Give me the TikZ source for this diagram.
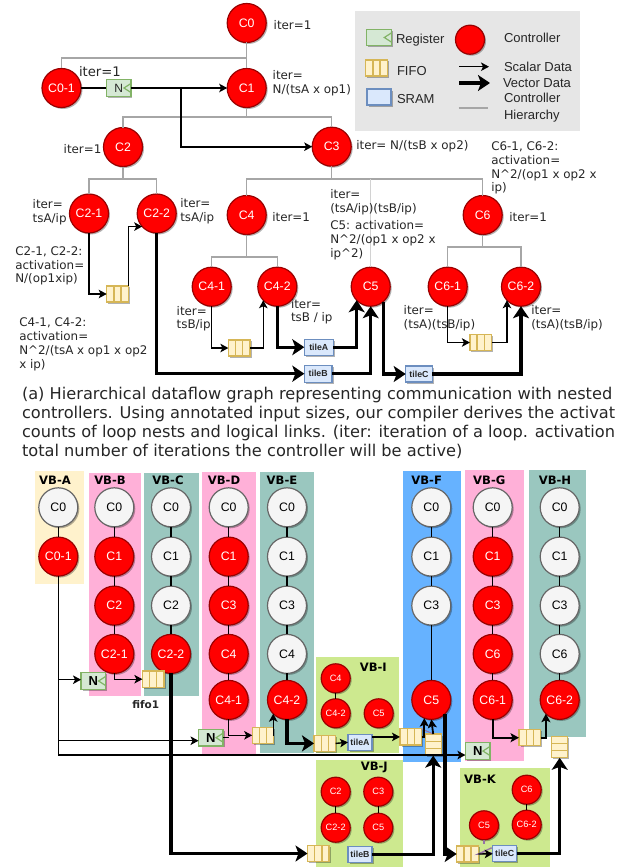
\documentclass[tikz,border=0pt]{standalone}
\usepackage{fontspec}
\setsansfont{Liberation Sans}
\newfontfamily\notefont{DejaVu Sans}
\usepackage{tikz}
\usetikzlibrary{positioning}
\usetikzlibrary{shapes.geometric, arrows.meta, calc, shadows}
\definecolor{ctrlred}{HTML}{FF0000}
\definecolor{ctrledge}{HTML}{9A0000}
\definecolor{offfill}{HTML}{F5F5F5}
\definecolor{offedge}{HTML}{666666}
\definecolor{regfill}{HTML}{D5E8D4}
\definecolor{regedge}{HTML}{82B366}
\definecolor{fifofill}{HTML}{FFF2CC}
\definecolor{fifoedge}{HTML}{D6B656}
\definecolor{sramfill}{HTML}{DAE8FC}
\definecolor{sramedge}{HTML}{6C8EBF}
\definecolor{vbcream}{HTML}{FFF2CC}
\definecolor{vbpink}{HTML}{FFB0D8}
\definecolor{vbteal}{HTML}{9AC7BF}
\definecolor{vbgreen}{HTML}{CDE98F}
\definecolor{vbblue}{HTML}{66B2FF}
\definecolor{hiergray}{HTML}{A6A6A6}
\definecolor{legendgray}{HTML}{E6E6E6}
\definecolor{notetext}{HTML}{262626}
\definecolor{stubpurple}{HTML}{9673A6}

\begin{document}
\begin{tikzpicture}[
            x=1pt, y=-1pt,
            % Estilos de los nodos
            softshadow/.style={drop shadow={shadow xshift=1.5pt, shadow yshift=-1.5pt, fill=black, opacity=0.3}},
            ctrl/.style={circle, draw=ctrledge, fill=ctrlred, line width=1.2pt, minimum size=39pt, inner sep=0pt, outer sep=0pt, text=white, font=\sffamily\fontsize{12.3}{14}\selectfont, softshadow},
            ctrloff/.style={ctrl, draw=offedge, fill=offfill, text=black},
            minictrl/.style={ctrl, minimum size=29pt, font=\sffamily\fontsize{9.2}{11}\selectfont},
            reg/.style={rectangle, draw=regedge, fill=regfill, line width=1.3pt, minimum width=24.5pt, minimum height=16.5pt, inner sep=0pt, outer sep=0pt, text=notetext, font=\sffamily\fontsize{12}{14}\selectfont, softshadow,
                path picture={\draw[regedge, line width=1.2pt] (path picture bounding box.east) +(0,-4.5) -- +(-7,0) -- +(0,4.5);}},
            regbold/.style={reg, text=black, font=\sffamily\bfseries\fontsize{13}{14}\selectfont},
            fifo/.style={rectangle, draw=fifoedge, fill=fifofill, line width=1.3pt, minimum width=21.6pt, minimum height=16.2pt, inner sep=0pt, outer sep=0pt, softshadow,
                path picture={\foreach \cut in {0.333, 0.667} {\draw[fifoedge, line width=1.3pt] ($(path picture bounding box.north west)!\cut!(path picture bounding box.north east)$) -- ($(path picture bounding box.south west)!\cut!(path picture bounding box.south east)$);}}},
            fifostack/.style={rectangle, draw=fifoedge, fill=fifofill, line width=1.3pt, minimum width=16pt, minimum height=21.6pt, inner sep=0pt, outer sep=0pt, softshadow,
                path picture={\foreach \cut in {0.333, 0.667} {\draw[fifoedge, line width=1.3pt] ($(path picture bounding box.north west)!\cut!(path picture bounding box.south west)$) -- ($(path picture bounding box.north east)!\cut!(path picture bounding box.south east)$);}}},
            sram/.style={rectangle, draw=sramedge, fill=sramfill, line width=1.3pt, minimum width=24pt, minimum height=16pt, inner sep=0pt, outer sep=0pt, text=notetext, font=\sffamily\bfseries\fontsize{8.8}{10}\selectfont, softshadow},
            hier/.style={draw=hiergray, line width=1.5pt},
            hierlight/.style={draw=hiergray!50, line width=1.2pt},
            chain/.style={draw=black, line width=1.1pt},
            scalar/.style={-{Stealth[length=8pt, width=8.5pt, inset=2pt]}, draw=black, line width=1.4pt},
            midarrow/.style={-{Stealth[length=8.5pt, width=9pt, inset=2pt]}, draw=black, line width=1.8pt},
            vector/.style={-{Stealth[length=12pt, width=16pt, inset=3pt]}, draw=black, line width=3.2pt},
            note/.style={font=\notefont\fontsize{11.9}{13.8}\selectfont, text=notetext, align=left, anchor=west, inner sep=0pt, outer sep=0pt},
            keytext/.style={font=\sffamily\fontsize{13}{16.4}\selectfont, text=notetext, align=left, anchor=west, inner sep=0pt, outer sep=0pt},
            vbtitle/.style={font=\notefont\bfseries\fontsize{11.6}{14}\selectfont, text=black, inner sep=0pt, outer sep=0pt}
        ]

            \useasboundingbox (0,0) rectangle (616,867);

            % Fondos de los bloques virtuales
            \fill[vbcream] (35,471) rectangle (83.7,583.7);
            \fill[vbpink] (89,473) rectangle (141,695.7);
            \fill[vbteal] (144,473) rectangle (199,695.7);
            \fill[vbpink] (202,472) rectangle (256,754);
            \fill[vbteal] (260,472) rectangle (314,753);
            \fill[vbgreen] (316,657) rectangle (399,753);
            \fill[vbblue] (403,471) rectangle (461,761.7);
            \fill[vbpink] (465,470) rectangle (524,760.7);
            \fill[vbteal] (529,470) rectangle (586,737);
            \fill[vbgreen] (316,760) rectangle (403,867);
            \fill[vbgreen] (460,768) rectangle (550,867);
            \fill[legendgray] (355,11) rectangle (580,130.7);

            % Leyenda
            \node[reg, minimum width=24.6pt] (keyreg) at (379,37.5) {};
            \node[keytext] (keyregtext) at (396,40) {Register};
            \node[fifo] (keyfifo) at (376.5,68) {};
            \node[keytext] (keyfifotext) at (397,71) {FIFO};
            \node[sram] (keysram) at (379,97) {};
            \node[keytext] (keysramtext) at (397,99) {SRAM};
            \node[ctrl, minimum size=29pt] (keyctrl) at (470,39.7) {};
            \node[keytext] (keyctrltext) at (504,37.7) {Controller};
            \node[keytext] (keyscalartext) at (504,66.7) {Scalar Data};
            \node[keytext] (keyvectortext) at (503,82.7) {Vector Data};
            \node[keytext] (keyhiertext) at (504,107.5) {Controller\\Hierarchy};
            \coordinate (keyscalara) at (459,66.7);
            \coordinate (keyscalarb) at (489,66.7);
            \coordinate (keyvectora) at (459,83);
            \coordinate (keyvectorb) at (490,83);
            \coordinate (keyhiera) at (458.7,108);
            \coordinate (keyhierb) at (487.7,108);
            \draw[scalar] (keyscalara) -- (keyscalarb);
            \draw[vector] (keyvectora) -- (keyvectorb);
            \draw[hier] (keyhiera) -- (keyhierb);

            % Grafo jerarquico
            \node[ctrl] (c0) at (246.7,23) {C0};
            \node[ctrl] (c01) at (61.5,88) {C0-1};
            \node[ctrl] (c1) at (246.7,88) {C1};
            \node[ctrl] (c2) at (123,147) {C2};
            \node[ctrl] (c3) at (331.7,146.7) {C3};
            \node[ctrl] (c21) at (89,213.5) {C2-1};
            \node[ctrl] (c22) at (156.7,213.5) {C2-2};
            \node[ctrl] (c4) at (246.7,215) {C4};
            \node[ctrl] (c6) at (482.7,215) {C6};
            \node[ctrl] (c41) at (211.7,286.7) {C4-1};
            \node[ctrl] (c42) at (277.3,286.7) {C4-2};
            \node[ctrl] (c5) at (370.7,286.7) {C5};
            \node[ctrl] (c61) at (447.7,286.7) {C6-1};
            \node[ctrl] (c62) at (521,286.7) {C6-2};

            \node[reg] (regn) at (118.7,88) {N};
            \node[fifo] (fifoa) at (117.5,294) {};
            \node[fifo] (fifob) at (239.2,348) {};
            \node[fifo] (fifoc) at (480.7,342.5) {};
            \node[sram, minimum width=29pt] (tilea) at (318.8,347.2) {tileA};
            \node[sram, minimum width=27.7pt, minimum height=17pt] (tileb) at (318.2,373.7) {tileB};
            \node[sram, minimum width=26.6pt] (tilec) at (419,374) {tileC};
            \coordinate (branch) at (180.7,88);
            \coordinate (hiertop) at (370.7,179);

            % Jerarquia de controladores
            \draw[hier] (c0) -- (c1);
            \draw[hier] (c0.south) -- ++(0,15.5) -| (c01.north);
            \draw[hier] (c1.south) -- ++(0,9.5) -| (c2.north);
            \draw[hier] (c1.south) -- ++(0,9.5) -| (c3.north);
            \draw[hier] (c2.south) -- ++(0,12.5) -| (c21.north);
            \draw[hier] (c2.south) -- ++(0,12.5) -| (c22.north);
            \draw[hier] (c3.south) -- ++(0,13) -| (c4.north);
            \draw[hier] (c3.south) -- ++(0,13) -| (c6.north);
            \draw[hierlight] (c5.north) -- (hiertop);
            \draw[hier] (c4.south) -- ++(0,22.5) -| (c41.north);
            \draw[hier] (c4.south) -- ++(0,22.5) -| (c42.north);
            \draw[hier] (c6.south) -- ++(0,12.5) -| (c61.north);
            \draw[hier] (c6.south) -- ++(0,12.5) -| (c62.north);

            % Datos escalares
            \draw[line width=1.4pt] (c01) -- (regn);
            \draw[scalar, line width=1.6pt] (regn) -- (c1);
            \draw[scalar, line width=1.6pt] (branch) |- (c3.west);
            \draw[scalar] (c21.south) |- (fifoa.west);
            \draw[scalar] (fifoa.north east) |- (c22.222);
            \draw[scalar] (c41.south) |- (fifob.west);
            \draw[scalar] (fifob.east) -| (c42.224);
            \draw[scalar] (c61.south) |- (fifoc.west);
            \draw[scalar] (fifoc.east) -| (c62.224);

            % Datos vectoriales
            \draw[vector] (c42.south) |- (tilea.west);
            \draw[vector] (c22.south) |- (tileb.west);
            \draw[vector] (tilea.east) -| (c5.224);
            \draw[vector] (tileb.east) -| (c5.south);
            \draw[vector] (c5.310) |- (tilec.west);
            \draw[vector] (tilec.east) -| (c62.south);

            % Anotaciones
            \node[note] (itera) at (273.7,25) {iter=1};
            \node[note, font=\notefont\fontsize{13.2}{14}\selectfont] (iterb) at (79,71.3) {iter=1};
            \node[note] (iterc) at (272.7,83.5) {iter=\\N/(tsA x op1)};
            \node[note] (iterd) at (63.7,148.7) {iter=1};
            \node[note] (itere) at (356.3,146) {iter= N/(tsB x op2)};
            \node[note] (actc) at (491.3,168) {C6-1, C6-2:\\activation=\\N\textasciicircum 2/(op1 x op2 x\\ip)};
            \node[note] (iterf) at (272.3,217) {iter=1};
            \node[note] (iterg) at (509.3,217) {iter=1};
            \node[note] (iterh) at (32.7,212.5) {iter=\\tsA/ip};
            \node[note] (iteri) at (180.3,211) {iter=\\tsA/ip};
            \node[note] (iterj) at (330.3,202) {iter=\\(tsA/ip)(tsB/ip)};
            \node[note] (actd) at (330.3,240) {C5: activation=\\N\textasciicircum 2/(op1 x op2 x\\ip\textasciicircum 2)};
            \node[note] (acta) at (15.3,266) {C2-1, C2-2:\\activation=\\N/(op1xip)};
            \node[note] (actb) at (19.3,344.3) {C4-1, C4-2:\\activation=\\N\textasciicircum 2/(tsA x op1 x op2\\x ip)};
            \node[note] (iterk) at (176.7,318.8) {iter=\\tsB/ip};
            \node[note] (iterl) at (291,311.7) {iter=\\tsB / ip};
            \node[note] (iterm) at (403.7,318.5) {iter=\\(tsA)(tsB/ip)};
            \node[note] (itern) at (531.3,318.5) {iter=\\(tsA)(tsB/ip)};

            \node[note, font=\notefont\fontsize{16.2}{19.2}\selectfont] (caption) at (22,423) {(a) Hierarchical dataflow graph representing communication with nested\\controllers. Using annotated input sizes, our compiler derives the activat\\counts of loop nests and logical links. (iter: iteration of a loop. activation\\total number of iterations the controller will be active)};

            % Bloques virtuales
            \node[vbtitle] (vba) at (55,480) {VB-A};
            \node[vbtitle] (vbb) at (110,480) {VB-B};
            \node[vbtitle] (vbc) at (168,480) {VB-C};
            \node[vbtitle] (vbd) at (224,480) {VB-D};
            \node[vbtitle] (vbe) at (282,480) {VB-E};
            \node[vbtitle] (vbf) at (426.7,480) {VB-F};
            \node[vbtitle] (vbg) at (489.3,480) {VB-G};
            \node[vbtitle] (vbh) at (555,480) {VB-H};
            \node[vbtitle] (vbi) at (373.3,667) {VB-I};
            \node[vbtitle] (vbj) at (374.3,767.7) {VB-J};
            \node[vbtitle] (vbk) at (480,779) {VB-K};
            \node[vbtitle, font=\notefont\bfseries\fontsize{10.5}{12}\selectfont, text=notetext] (fifoname) at (145.7,704.7) {fifo1};

            \node[ctrloff] (acz) at (58.3,507.3) {C0};
            \node[ctrl, below=10.3pt of acz] (acx) {C0-1};

            \node[ctrloff] (bcz) at (114.3,507.3) {C0};
            \node[ctrl, below=10.3pt of bcz] (bca) {C1};
            \node[ctrl, below=10pt of bca] (bcb) {C2};
            \node[ctrl, below=9.3pt of bcb] (bcc) {C2-1};

            \node[ctrloff] (ccz) at (171,507.3) {C0};
            \node[ctrloff, below=10.3pt of ccz] (cca) {C1};
            \node[ctrloff, below=10pt of cca] (ccb) {C2};
            \node[ctrl, below=9.3pt of ccb] (ccc) {C2-2};

            \node[ctrloff] (dcz) at (228.7,507.3) {C0};
            \node[ctrl, below=10.3pt of dcz] (dca) {C1};
            \node[ctrl, below=10pt of dca] (dcb) {C3};
            \node[ctrl, below=9.3pt of dcb] (dcc) {C4};
            \node[ctrl, below=7pt of dcc] (dcd) {C4-1};

            \node[ctrloff] (ecz) at (287,507.3) {C0};
            \node[ctrloff, below=10.3pt of ecz] (eca) {C1};
            \node[ctrloff, below=10pt of eca] (ecb) {C3};
            \node[ctrloff, below=9.3pt of ecb] (ecc) {C4};
            \node[ctrl, below=7pt of ecc] (ecd) {C4-2};

            \node[ctrloff] (fcz) at (431.3,507.3) {C0};
            \node[ctrloff, below=10.3pt of fcz] (fca) {C1};
            \node[ctrloff, below=10pt of fca] (fcb) {C3};
            \node[ctrl, below=55.3pt of fcb] (fcc) {C5};

            \node[ctrloff] (gcz) at (492.7,507.3) {C0};
            \node[ctrl, below=10.3pt of gcz] (gca) {C1};
            \node[ctrl, below=10pt of gca] (gcb) {C3};
            \node[ctrl, below=9.3pt of gcb] (gcc) {C6};
            \node[ctrl, below=7pt of gcc] (gcd) {C6-1};

            \node[ctrloff] (hcz) at (559.7,507.3) {C0};
            \node[ctrloff, below=10.3pt of hcz] (hca) {C1};
            \node[ctrloff, below=10pt of hca] (hcb) {C3};
            \node[ctrloff, below=9.3pt of hcb] (hcc) {C6};
            \node[ctrl, below=7pt of hcc] (hcd) {C6-2};

            \node[minictrl] (ica) at (335.7,678.3) {C4};
            \node[minictrl, below=6pt of ica] (icb) {C4-2};
            \node[minictrl] (icc) at (378.7,713.3) {C5};
            \node[minictrl] (jca) at (335.7,791.7) {C2};
            \node[minictrl, below=7pt of jca] (jcb) {C2-2};
            \node[minictrl] (jcc) at (378.3,791.7) {C3};
            \node[minictrl, below=7pt of jcc] (jcd) {C5};
            \node[minictrl] (kca) at (526.7,789.7) {C6};
            \node[minictrl, below=6pt of kca] (kcb) {C6-2};
            \node[minictrl] (kcc) at (484,825.3) {C5};

            \node[regbold] (regb) at (93.3,681) {N};
            \node[regbold] (regd) at (210.8,737.7) {N};
            \node[regbold] (regg) at (477.7,751) {N};
            \node[fifo] (fifob1) at (153.2,679.2) {};
            \node[fifo] (fifod) at (263,735.3) {};
            \node[fifo] (fifoe) at (324.8,743.4) {};
            \node[fifo] (fifof) at (410.8,736.9) {};
            \node[fifo] (fifog) at (529.8,737.7) {};
            \node[fifo] (fifoj) at (318.3,853.5) {};
            \node[fifo] (fifok) at (467.5,854) {};
            \node[fifostack] (stackf) at (433.2,744.8) {};
            \node[fifostack] (stackh) at (559.7,747) {};
            \node[sram] (tilei) at (360,742.3) {tileA};
            \node[sram] (tilej) at (360,854.5) {tileB};
            \node[sram] (tilek) at (504.7,853.8) {tileC};

            % Cadenas de controladores
            \draw[chain] (acz) -- (acx);
            \draw[chain] (bcz) -- (bca);
            \draw[chain] (bca) -- (bcb);
            \draw[chain] (bcb) -- (bcc);
            \draw[chain] (ccz) -- (cca);
            \draw[chain] (cca) -- (ccb);
            \draw[chain] (ccb) -- (ccc);
            \draw[chain] (dcz) -- (dca);
            \draw[chain] (dca) -- (dcb);
            \draw[chain] (dcb) -- (dcc);
            \draw[chain] (dcc) -- (dcd);
            \draw[chain] (ecz) -- (eca);
            \draw[chain] (eca) -- (ecb);
            \draw[chain] (ecb) -- (ecc);
            \draw[chain] (ecc) -- (ecd);
            \draw[chain] (fcz) -- (fca);
            \draw[chain] (fca) -- (fcb);
            \draw[chain] (fcb) -- (fcc);
            \draw[chain] (gcz) -- (gca);
            \draw[chain] (gca) -- (gcb);
            \draw[chain] (gcb) -- (gcc);
            \draw[chain] (gcc) -- (gcd);
            \draw[chain] (hcz) -- (hca);
            \draw[chain] (hca) -- (hcb);
            \draw[chain] (hcb) -- (hcc);
            \draw[chain] (hcc) -- (hcd);
            \draw[chain] (ica) -- (icb);
            \draw[chain] (jca) -- (jcb);
            \draw[chain] (jcc) -- (jcd);
            \draw[chain] (kca) -- (kcb);

            % Restos morados
            \draw[stubpurple, line width=1.4pt] (kcc.south) -- ++(0,4);
            \draw[stubpurple, line width=1.4pt] ($(tilek.west)+(-1,-6)$) -- (fifok.east) -- ($(tilek.west)+(-1,-1)$);
            \draw[stubpurple, line width=1pt] (fifof.north east) -- (stackf.north);

            % Datos escalares
            \draw[scalar] (acx.south) |- ($(regb.west)+(0,-1.3)$);
            \draw[scalar] (acx.south) |- ($(regd.west)+(0,3)$);
            \draw[scalar] (acx.south) |- ($(regg.west)+(0,4)$);
            \draw[scalar] (bcc.south) |- (fifob1.west);
            \draw[scalar] (dcd.south) |- (fifod.west);
            \draw[line width=1.4pt] (regd.east) -- (dcd.south |- regd.east);
            \draw[scalar] (fifod.east) -| (ecd.225);
            \draw[scalar] (fifoe.east) -- (tilei.west);
            \draw[scalar] (tilei.east |- fifof.west) -- (fifof.west);
            \draw[midarrow] (fifof.east) -| (fcc.249);
            \draw[midarrow] (gcd.south) |- (fifog.west);
            \draw[midarrow] (fifog.east) -| (hcd.225);
            \draw[scalar] (fifok.east) -- (tilek.west);

            % Datos vectoriales
            \draw[vector] (ecd.south) |- (fifoe.west);
            \draw[vector] (ccc.south) |- (fifoj.west);
            \draw[vector] (tilej.east) -| (stackf.south);
            \draw[midarrow] (stackf.north) -- (fcc.south);
            \draw[vector] (fcc.315) |- (fifok.west);
            \draw[vector] (tilek.east) -| (stackh.south);
        \end{tikzpicture}
\end{document}
